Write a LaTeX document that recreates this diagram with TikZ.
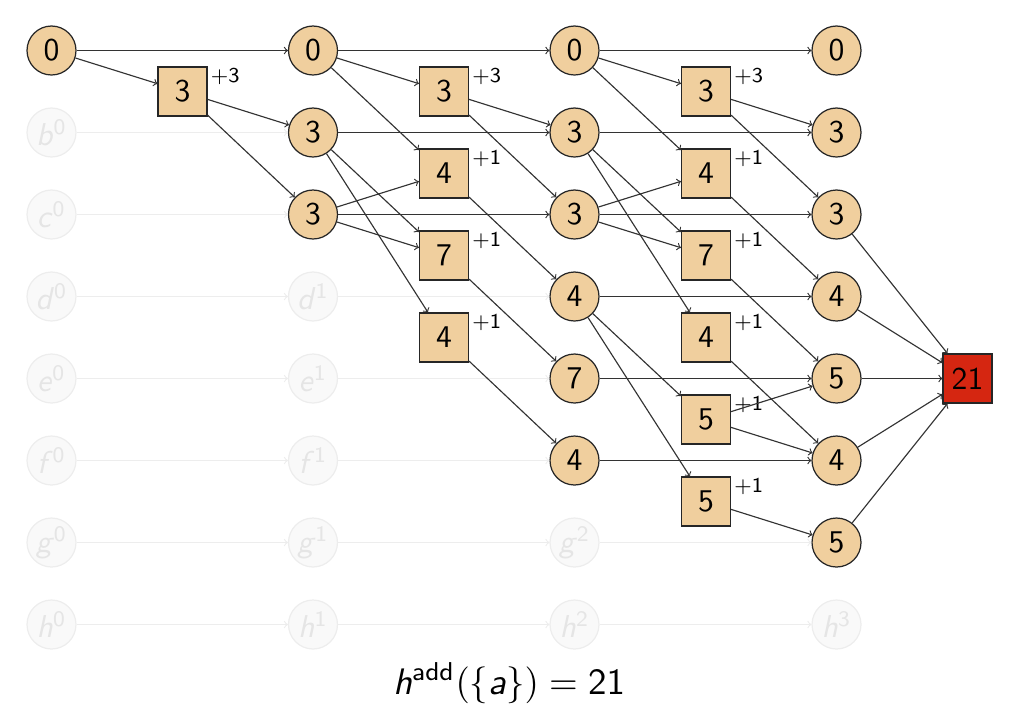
\documentclass[tikz,border=0pt]{standalone}
\usepackage{graphicx}
\usetikzlibrary{calc}
\definecolor{nodefill}{RGB}{240,207,158}
\definecolor{goalred}{RGB}{213,38,17}
% text set at a small design size and enlarged
\newcommand\lbl[1]{\scalebox{1.8}{\sffamily\fontsize{10}{12}\selectfont #1}}
\newcommand\costlbl[1]{\scalebox{1.85}{\sffamily\fontsize{6.5}{8}\selectfont #1}}
\newcommand\formula[1]{\scalebox{2.1}{\sffamily\fontsize{10}{12}\selectfont #1}}

\begin{document}
\begin{tikzpicture}[x=0.02cm,y=-0.02cm,
  fact/.style={circle, draw=black!85, fill=nodefill, line width=0.7pt, minimum size=0.98cm, inner sep=0pt},
  ghost/.style={circle, draw=black!7, fill=black!2.5, text=black!10, line width=0.7pt, minimum size=0.98cm, inner sep=0pt},
  act/.style={rectangle, draw=black!85, fill=nodefill, line width=0.7pt, minimum size=0.98cm, inner sep=0pt},
  goal/.style={act, fill=goalred},
  cost/.style={anchor=west, inner sep=0pt},
  arc/.style={->, draw=black!80, line width=0.65pt},
  ghostarc/.style={->, draw=black!7, line width=0.65pt}
]
\useasboundingbox (0,0) rectangle (1023,721);

% ---- layer 0 ----
\node[fact] (a0) at (51.5,50.5) {\lbl{0}};
\foreach \v/\y in {b/132.5,c/214.5,d/296.5,e/378.5,f/460.5,g/542.5,h/624.5}
  \node[ghost] (\v0) at (51.5,\y) {\lbl{\textit{\v}\textsuperscript{0}}};

% ---- layer 1 ----
\foreach \v/\y in {d/296.5,e/378.5,f/460.5,g/542.5,h/624.5}
  \node[ghost] (\v1) at (313,\y) {\lbl{\textit{\v}\textsuperscript{1}}};
\node[fact] (a1) at (313,50.5) {\lbl{0}};
\node[fact] (b1) at (313,132.5) {\lbl{3}};
\node[fact] (c1) at (313,214.5) {\lbl{3}};

% ---- layer 2 ----
\foreach \v/\y in {g/542.5,h/624.5}
  \node[ghost] (\v2) at (574.5,\y) {\lbl{\textit{\v}\textsuperscript{2}}};
\node[fact] (a2) at (574.5,50.5) {\lbl{0}};
\node[fact] (b2) at (574.5,132.5) {\lbl{3}};
\node[fact] (c2) at (574.5,214.5) {\lbl{3}};
\node[fact] (d2) at (574.5,296.5) {\lbl{4}};
\node[fact] (e2) at (574.5,378.5) {\lbl{7}};
\node[fact] (f2) at (574.5,460.5) {\lbl{4}};

% ---- layer 3 ----
\node[ghost] (h3) at (836.5,624.5) {\lbl{\textit{h}\textsuperscript{3}}};
\node[fact] (a3) at (836.5,50.5) {\lbl{0}};
\node[fact] (b3) at (836.5,132.5) {\lbl{3}};
\node[fact] (c3) at (836.5,214.5) {\lbl{3}};
\node[fact] (d3) at (836.5,296.5) {\lbl{4}};
\node[fact] (e3) at (836.5,378.5) {\lbl{5}};
\node[fact] (f3) at (836.5,460.5) {\lbl{4}};
\node[fact] (g3) at (836.5,542.5) {\lbl{5}};

% ---- actions ----
\node[act] (p1) at (182.5,91.5) {\lbl{3}};

\node[act] (q1) at (444,91.5) {\lbl{3}};
\node[act] (q2) at (444,173.5) {\lbl{4}};
\node[act] (q3) at (444,255.5) {\lbl{7}};
\node[act] (q4) at (444,337.5) {\lbl{4}};

\node[act] (r1) at (706,91.5) {\lbl{3}};
\node[act] (r2) at (706,173.5) {\lbl{4}};
\node[act] (r3) at (706,255.5) {\lbl{7}};
\node[act] (r4) at (706,337.5) {\lbl{4}};
\node[act] (r5) at (706,419.5) {\lbl{5}};
\node[act] (r6) at (706,501.5) {\lbl{5}};

\node[goal] (goal) at (967.5,378.5) {\lbl{21}};

% ---- action costs ----
\foreach \n/\c in {p1/3,q1/3,q2/1,q3/1,q4/1,r1/3,r2/1,r3/1,r4/1,r5/1,r6/1}
  \node[cost] (\n c) at ($(\n.north east)+(3,10)$) {\costlbl{+\c}};

% ---- unreached no-op arcs ----
\foreach \v in {b,c,d,e,f,g,h} \draw[ghostarc] (\v0) -- (\v1);
\foreach \v in {d,e,f,g,h} \draw[ghostarc] (\v1) -- (\v2);
\foreach \v in {g,h} \draw[ghostarc] (\v2) -- (\v3);

% ---- layer 0 -> 1 ----
\draw[arc] (a0) -- (a1);
\draw[arc] (a0) -- (p1);
\draw[arc] (p1) -- (b1);
\draw[arc] (p1) -- (c1);

% ---- layer 1 -> 2 ----
\foreach \v in {a,b,c} \draw[arc] (\v1) -- (\v2);
\draw[arc] (a1) -- (q1);
\draw[arc] (q1) -- (b2);
\draw[arc] (q1) -- (c2);
\draw[arc] (a1) -- (q2);
\draw[arc] (c1) -- (q2);
\draw[arc] (q2) -- (d2);
\draw[arc] (b1) -- (q3);
\draw[arc] (c1) -- (q3);
\draw[arc] (q3) -- (e2);
\draw[arc] (b1) -- (q4);
\draw[arc] (q4) -- (f2);

% ---- layer 2 -> 3 ----
\foreach \v in {a,b,c,d,e,f} \draw[arc] (\v2) -- (\v3);
\draw[arc] (a2) -- (r1);
\draw[arc] (r1) -- (b3);
\draw[arc] (r1) -- (c3);
\draw[arc] (a2) -- (r2);
\draw[arc] (c2) -- (r2);
\draw[arc] (r2) -- (d3);
\draw[arc] (b2) -- (r3);
\draw[arc] (c2) -- (r3);
\draw[arc] (r3) -- (e3);
\draw[arc] (b2) -- (r4);
\draw[arc] (r4) -- (f3);
\draw[arc] (d2) -- (r5);
\draw[arc] (r5) -- (e3);
\draw[arc] (r5) -- (f3);
\draw[arc] (d2) -- (r6);
\draw[arc] (r6) -- (g3);

% ---- goal ----
\foreach \v in {c,d,e,f,g} \draw[arc] (\v3) -- (goal);

\node (result) at (509,683) {\formula{\textit{h}\textsuperscript{add}$(\{\textit{a}\})=\mathsf{21}$}};
\end{tikzpicture}
\end{document}
